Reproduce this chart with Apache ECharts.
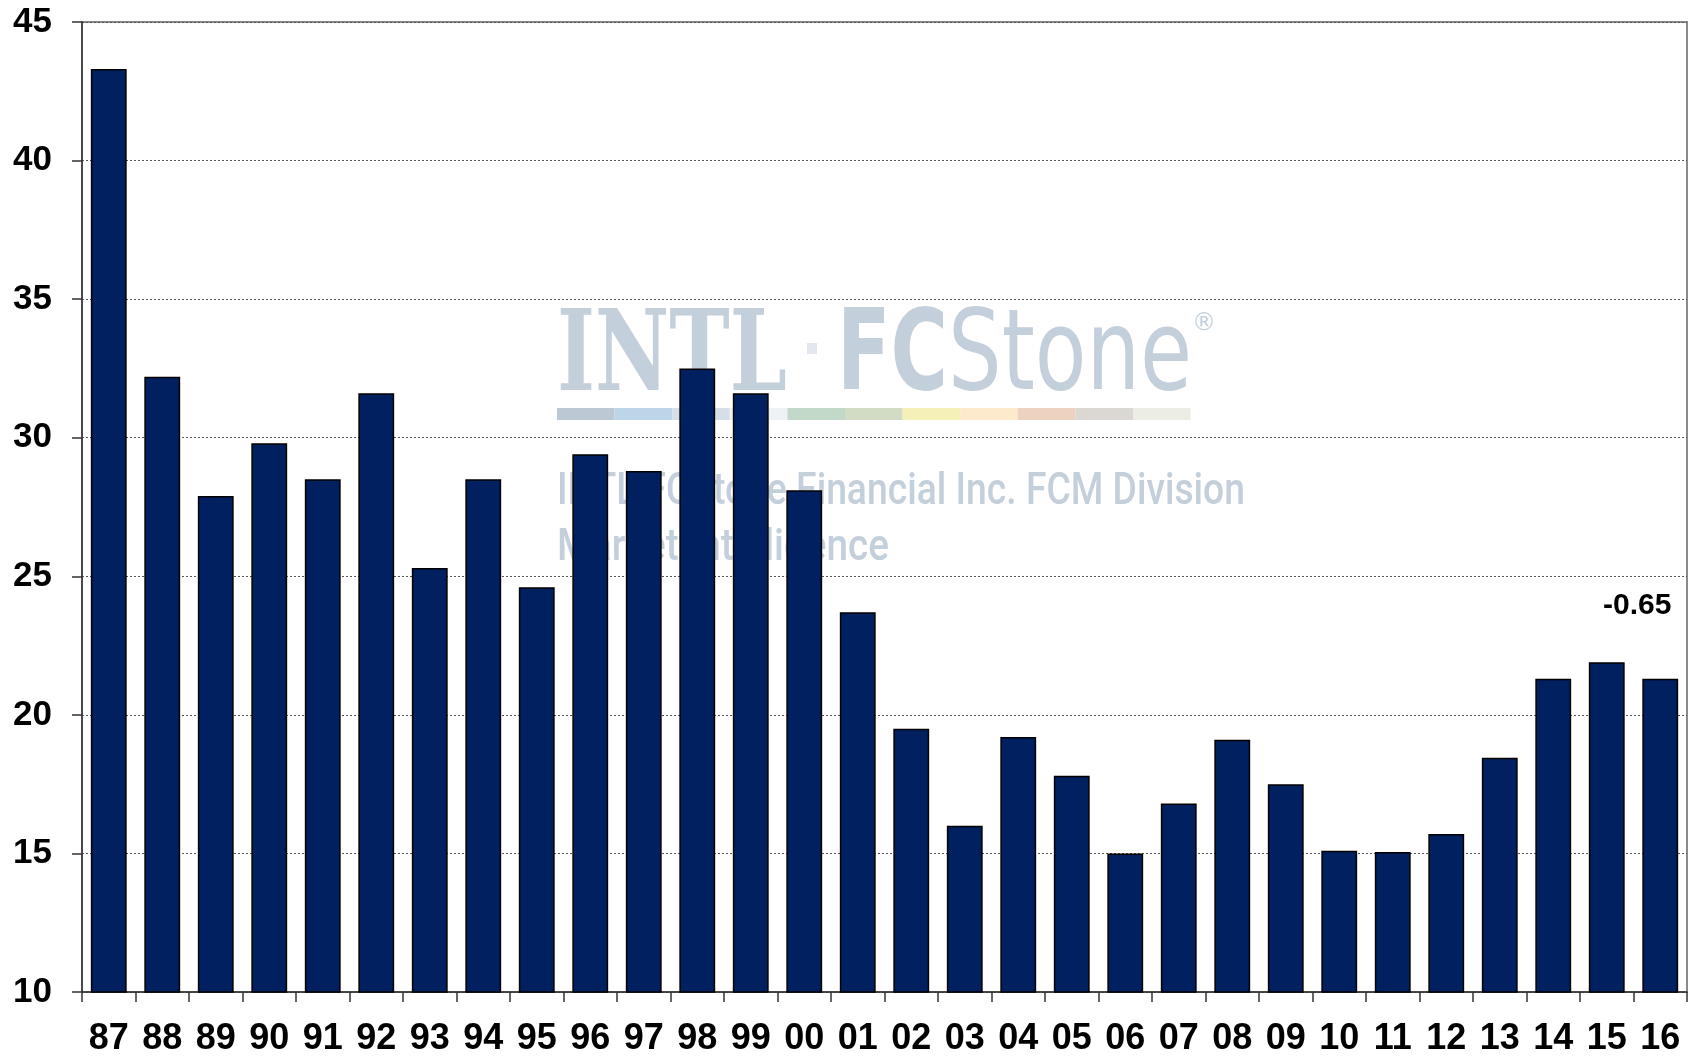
<!DOCTYPE html>
<html>
<head>
<meta charset="utf-8">
<script src="https://cdn.jsdelivr.net/npm/echarts@6/dist/echarts.min.js"></script>
<style>
  html, body { margin: 0; padding: 0; background: #fff; }
  #chart { width: 1694px; height: 1057px; }
</style>
</head>
<body>
<div id="chart"></div>
<script>
// Year labels (two-digit) and bar values
const years = ['87', '88', '89', '90', '91', '92', '93', '94', '95', '96',
               '97', '98', '99', '00', '01', '02', '03', '04', '05', '06',
               '07', '08', '09', '10', '11', '12', '13', '14', '15', '16'];
const values = [43.3, 32.2, 27.9, 29.8, 28.5, 31.6, 25.3, 28.5, 24.6, 29.4,
                28.8, 32.5, 31.6, 28.1, 23.7, 19.5, 16.0, 19.2, 17.8, 15.0,
                16.8, 19.1, 17.5, 15.1, 15.05, 15.7, 18.45, 21.3, 21.9, 21.3];
// Annotation shown above the last bar
const lastNote = '-0.65';

// Watermark stripe colours (left to right)
const stripeColors = ['#bcc9d4', '#bdd5e8', '#d5dfe8', '#eef2f4', '#c2d8c8', '#d2dcc4',
                      '#f4f0b8', '#fde9cc', '#ecd2bf', '#dbd7d2', '#ecede4'];

const WM = '#c3cfda';
const FONT = '"Liberation Sans", Arial, sans-serif';

// squeeze a watermark string horizontally so it spans the given width
const measureCtx = document.createElement('canvas').getContext('2d');
function squeeze(text, font, width) {
  measureCtx.font = font;
  return width / measureCtx.measureText(text).width;
}

function wmText(text, font, left, top, width) {
  return {
    type: 'text', left, top, z: 0,
    scaleX: squeeze(text, font, width),
    style: { text, fill: WM, font }
  };
}

const chart = echarts.init(document.getElementById('chart'));

const stripes = stripeColors.map((c, i) => ({
  type: 'rect',
  left: 557 + i * 57.6,
  top: 408,
  shape: { width: 57.6, height: 12 },
  style: { fill: c },
  z: 0
}));

const seriesData = values.map((v, i) => {
  if (i !== values.length - 1) return v;
  return {
    value: v,
    label: {
      show: true,
      position: 'top',
      distance: 58,
      offset: [-23, 0],
      formatter: lastNote,
      color: '#000',
      fontFamily: FONT,
      fontWeight: 'bold',
      fontSize: 30
    }
  };
});

const fontIntl = 'bold 112px "DejaVu Serif", serif';
const fontFC = 'bold 112px "DejaVu Sans", sans-serif';
const fontStone = '112px "DejaVu Sans", sans-serif';
const fontSub = '500 44px Roboto, sans-serif';

chart.setOption({
  backgroundColor: '#fff',
  animation: false,
  grid: {
    left: 82, right: 7, top: 22, bottom: 64,
    show: true, borderColor: '#8a8a8a', borderWidth: 2, backgroundColor: 'transparent'
  },
  graphic: [
    // watermark, drawn behind the bars
    wmText('INTL', fontIntl, 557, 305, 230),
    {
      type: 'rect', left: 807, top: 343, z: 0,
      shape: { width: 10, height: 11 }, style: { fill: '#e2e8ed' }
    },
    wmText('FC', fontFC, 837, 304, 111),
    wmText('Stone', fontStone, 948, 304, 244),
    {
      type: 'text', left: 1192, top: 312, z: 0,
      style: { text: '®', fill: WM, font: '24px "DejaVu Sans", sans-serif' }
    },
    ...stripes,
    wmText('INTL FCStone Financial Inc. FCM Division', fontSub, 557, 471, 688),
    wmText('Market Intelligence', fontSub, 557, 527, 332)
  ],
  xAxis: {
    type: 'category',
    data: years,
    boundaryGap: true,
    axisLine: { lineStyle: { color: '#333', width: 1.5 } },
    axisTick: { show: true, length: 10, lineStyle: { color: '#333', width: 1.5 } },
    axisLabel: {
      color: '#000', fontFamily: FONT, fontWeight: 'bold', fontSize: 36,
      margin: 29, interval: 0
    }
  },
  yAxis: {
    type: 'value',
    min: 10, max: 45, interval: 5,
    axisLine: { show: true, lineStyle: { color: '#333', width: 1.5 } },
    axisTick: { show: true, length: 10, lineStyle: { color: '#333', width: 1.5 } },
    axisLabel: {
      color: '#000', fontFamily: FONT, fontWeight: 'bold', fontSize: 35, margin: 30
    },
    splitLine: { show: true, lineStyle: { color: '#555', width: 1, type: [2, 2] } }
  },
  series: [{
    type: 'bar',
    data: seriesData,
    barCategoryGap: '33%',
    itemStyle: { color: '#002060', borderColor: '#000', borderWidth: 1.5 },
    z: 2
  }]
});
</script>
</body>
</html>
